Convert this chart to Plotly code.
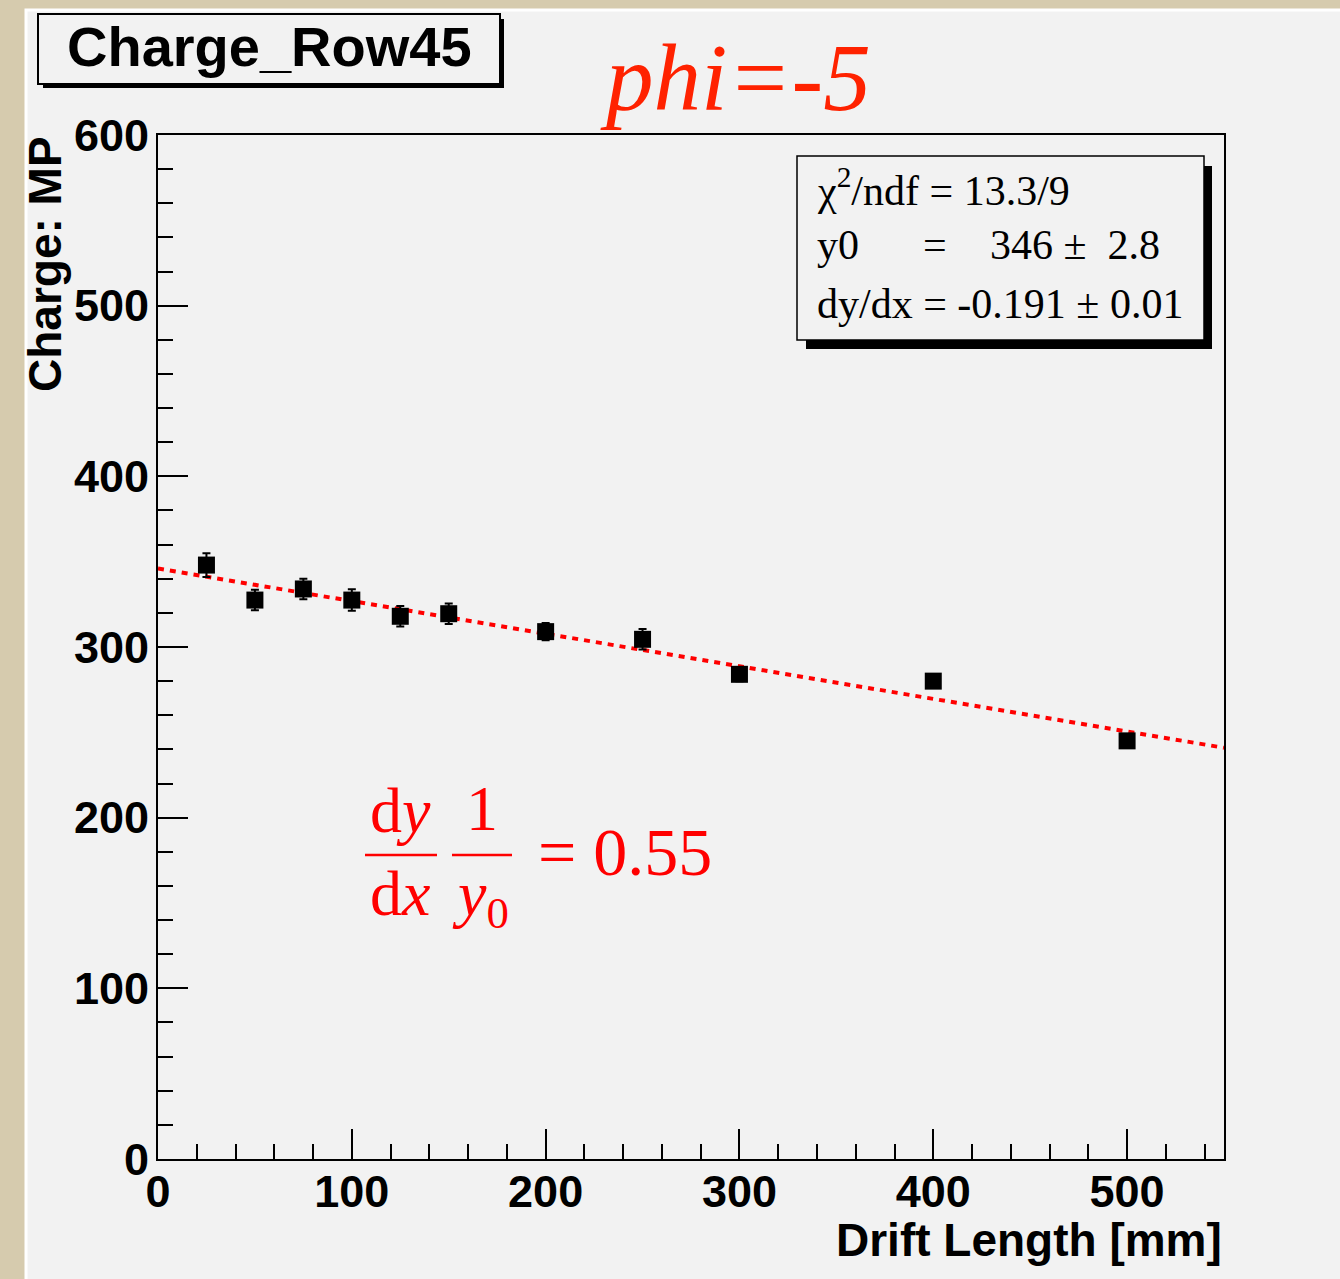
import plotly.graph_objects as go

# ---- data ----
drift_length = [25, 50, 75, 100, 125, 150, 200, 250, 300, 400, 500]
charge_mp = [348, 327.5, 334, 327.5, 318, 319.5, 309, 304.5, 284, 280, 245]
charge_err = [7, 6, 6, 6.3, 6, 6, 5, 6, 4, 4, 4]

fit_y0 = 346.0
fit_slope = -0.191
fit_x = [0, 550]
fit_y = [fit_y0 + fit_slope * v for v in fit_x]

x_ticks = [0, 100, 200, 300, 400, 500]
y_ticks = [0, 100, 200, 300, 400, 500, 600]

W, H = 1340, 1279
L, R, T, B = 158, 116, 135, 120
PW, PH = W - L - R, H - T - B


def px(x):
    return (x - L) / PW


def py(y):
    return (H - B - y) / PH


fig = go.Figure()

fig.add_trace(go.Scatter(
    x=fit_x, y=fit_y, mode="lines",
    line=dict(color="#ff0000", width=4, dash="6px,6px"),
    hoverinfo="skip", showlegend=False,
))

fig.add_trace(go.Scatter(
    x=drift_length, y=charge_mp, mode="markers",
    marker=dict(symbol="square", size=17, color="black"),
    error_y=dict(type="data", array=charge_err, color="black", thickness=2, width=4),
    showlegend=False,
))

shapes = []
# canvas panel on beige paper
shapes.append(dict(type="rect", xref="paper", yref="paper",
                   x0=px(26), x1=px(1350), y0=py(1290), y1=py(10),
                   fillcolor="#f2f2f2", line=dict(color="white", width=3), layer="below"))
# title box with shadow
shapes.append(dict(type="rect", xref="paper", yref="paper",
                   x0=px(43), x1=px(504), y0=py(88), y1=py(19),
                   fillcolor="black", line=dict(color="black", width=0)))
shapes.append(dict(type="rect", xref="paper", yref="paper",
                   x0=px(38), x1=px(500), y0=py(84), y1=py(14),
                   fillcolor="#f2f2f2", line=dict(color="black", width=2)))
# stats box with shadow
shapes.append(dict(type="rect", xref="paper", yref="paper",
                   x0=px(806), x1=px(1212), y0=py(349), y1=py(166),
                   fillcolor="black", line=dict(color="black", width=0)))
shapes.append(dict(type="rect", xref="paper", yref="paper",
                   x0=px(797), x1=px(1204), y0=py(340), y1=py(156),
                   fillcolor="#f2f2f2", line=dict(color="black", width=1.5)))
# fraction bars
shapes.append(dict(type="line", xref="paper", yref="paper",
                   x0=px(365), x1=px(437), y0=py(855), y1=py(855),
                   line=dict(color="#ff0000", width=2.5)))
shapes.append(dict(type="line", xref="paper", yref="paper",
                   x0=px(452), x1=px(512), y0=py(855), y1=py(855),
                   line=dict(color="#ff0000", width=2.5)))

sans_b = dict(family="Liberation Sans, Arial, sans-serif", color="black", weight="bold")
serif = "Liberation Serif, Times New Roman, serif"

ann = []
ann.append(dict(text="Charge_Row45", x=px(269), y=py(46), font=dict(size=56, **sans_b)))
ann.append(dict(text="<i>phi=-5</i>", x=px(735), y=py(78),
                font=dict(family=serif, size=95, color="#ff2200")))
ann.append(dict(text="Charge: MP", x=px(45), y=py(264), textangle=-90,
                font=dict(size=46, **sans_b)))
ann.append(dict(text="Drift Length [mm]", x=1.0, y=py(1240), xanchor="right",
                font=dict(size=46, **sans_b)))
# stats text
sfont = dict(family=serif, size=42, color="black")
ann.append(dict(text="χ<sup>2</sup>/ndf = 13.3/9", x=px(815), y=py(187), xanchor="left", font=sfont))
ann.append(dict(text="y0", x=px(815), y=py(245), xanchor="left", font=sfont))
ann.append(dict(text="=", x=px(935), y=py(245), font=sfont))
ann.append(dict(text="346 ±  2.8", x=px(988), y=py(245), xanchor="left", font=sfont))
ann.append(dict(text="dy/dx = -0.191 ± 0.01", x=px(815), y=py(304), xanchor="left", font=sfont))
# formula
ffont = dict(family=serif, size=64, color="#ff0000")
ann.append(dict(text="d<i>y</i>", x=px(400), y=py(810), font=ffont))
ann.append(dict(text="d<i>x</i>", x=px(400), y=py(893), font=ffont))
ann.append(dict(text="1", x=px(482), y=py(808), font=ffont))
ann.append(dict(text="<i>y</i><sub>0</sub>", x=px(480), y=py(898), font=ffont))
ann.append(dict(text="= 0.55", x=px(536), y=py(852), xanchor="left",
                font=dict(family=serif, size=68, color="#ff0000")))

for a in ann:
    a.update(xref="paper", yref="paper", showarrow=False)
    a.setdefault("xanchor", "center")
    a.setdefault("yanchor", "middle")

axis_common = dict(
    showline=True, linecolor="black", linewidth=2, mirror=True,
    ticks="inside", ticklen=30, tickwidth=1.5, tickcolor="black",
    showgrid=False, zeroline=False,
    tickfont=dict(size=45, **sans_b),
)

fig.update_layout(
    width=W, height=H,
    margin=dict(l=L, r=R, t=T, b=B),
    paper_bgcolor="#d6cbae",
    plot_bgcolor="#f2f2f2",
    shapes=shapes,
    annotations=ann,
    xaxis=dict(range=[0, 550], tickvals=x_ticks, ticklabelstandoff=-8,
               minor=dict(dtick=20, tick0=0, ticks="inside", ticklen=15, tickwidth=1.5,
                          tickcolor="black", showgrid=False),
               **axis_common),
    yaxis=dict(range=[0, 600], tickvals=y_ticks, ticklabelstandoff=-2,
               minor=dict(dtick=20, tick0=0, ticks="inside", ticklen=15, tickwidth=1.5,
                          tickcolor="black", showgrid=False),
               **axis_common),
)

fig.write_html("out.html")
